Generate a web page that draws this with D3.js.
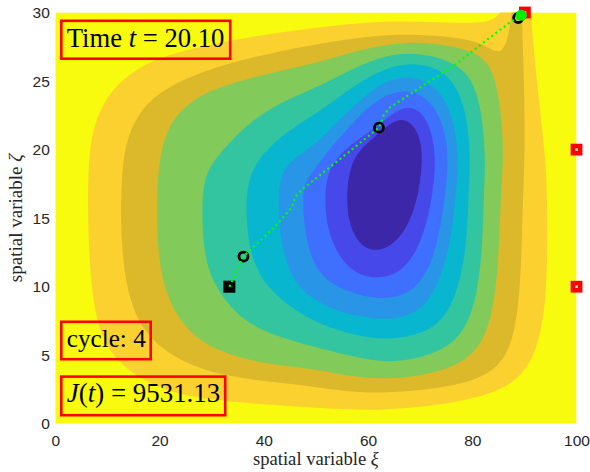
<!DOCTYPE html>
<html>
<head>
<meta charset="utf-8">
<script src="https://cdn.jsdelivr.net/npm/d3@7/dist/d3.min.js"></script>
<style>
    body { margin: 0; background: #fff; }
</style>
</head>
<body>
<div id="chart"></div>
<script>
"use strict";

// level regions as [xi, zeta] outlines, outermost first
const orangeRegion = [[6.2,16.8],[6.5,19.8],[7.5,21.9],[9.5,23.6],[12.5,25.0],[16.5,26.1],[21.5,26.9],[28.8,27.6],[38.4,28.3],[49.9,28.9],[62.4,29.4],[72,29.3],[80,29.2],[84.3,29.4],[86,30.3],[86.5,31.5],[91,31.5],[91.3,29.8],[91.8,27.3],[92.6,24.3],[93.5,21.2],[94.2,18.5],[94.4,15.5],[94.4,12],[94.1,9.2],[93.3,6.9],[91.7,4.8],[89,3.3],[84,2.2],[76,1.5],[68,1.15],[62.4,1.0],[55,1.05],[49.9,1.15],[38.4,1.45],[28.8,1.8],[22.4,2.3],[16,3.3],[11.2,4.8],[8.4,6.8],[7.0,9.5],[6.4,13]];
const goldRegion = [[12.6,16.8],[13.0,19.4],[14.3,21.4],[16.8,23.1],[21.1,24.5],[28.8,25.8],[38.4,26.8],[49.9,27.7],[62.4,28.4],[70,28.4],[77,28.2],[81.5,27.8],[84,27.2],[85.6,27.1],[86.7,27.9],[87.4,29.3],[87.8,31],[89.4,31],[89.6,29],[89.8,26.5],[90,23.5],[90.1,20.5],[89.9,18],[89.6,15],[89.4,11.5],[88.8,8.3],[87.5,5.7],[84.8,4.0],[79.5,3.0],[72,2.5],[62.4,2.2],[55,2.4],[49.9,2.7],[41.6,3.05],[32,3.5],[24.3,4.5],[18.6,6.0],[14.9,8.1],[13.2,11],[12.6,14]];
const greenRegion = [[19.5,16.8],[20.0,19.5],[21.5,21.5],[24,22.9],[28,24],[32,24.6],[38,25.3],[44,25.8],[49.9,26.3],[56,27.0],[62.4,27.6],[69,27.9],[75.5,27.6],[79.5,27.2],[82,26.7],[83.7,25.9],[84.9,24.3],[85.7,22],[86,19.5],[85.5,16.8],[85.2,13.5],[84.6,9.8],[83.1,6.8],[80.2,5.0],[75,3.9],[68,3.4],[62.4,3.25],[56,3.5],[49.9,4.0],[42,4.3],[35.2,4.8],[29,5.7],[25,7.0],[21.9,8.8],[20.1,11.2],[19.5,14]];
const tealRegion = [[28.2,16.8],[29.0,18.3],[30.7,19.3],[34,20.8],[39,22.5],[44.8,23.7],[49.9,24.5],[56,25.7],[62.4,26.8],[68,27.1],[73,26.8],[77,26.2],[79.8,25.2],[81.4,23.5],[82.3,21],[82.5,18.5],[82.2,16.8],[82,13],[81,9.6],[79.3,7.4],[76.5,5.9],[72,5.0],[67,4.6],[62.4,4.5],[56,5.0],[49.9,5.6],[41.6,6.45],[36,7.6],[33,8.8],[30.5,10.2],[28.9,11.8],[28.2,14]];
const cyanRegion = [[36.6,16.8],[37.6,18.4],[40,19.8],[44,21.2],[49.9,22.6],[55,24],[60,25.3],[64,26],[68,26.3],[72,26.1],[75.5,25.4],[78,23.8],[79.3,21.5],[79.6,19],[79.3,16.8],[79,13.5],[78,11],[76.3,8.8],[73.5,7.2],[69,6.4],[62.4,6.1],[56,6.6],[49.9,7.4],[44.8,8.6],[40.5,10],[37.7,12],[36.7,14.3]];
const azureRegion = [[42.7,16.8],[43.4,18.3],[45.5,19.3],[49.9,20.4],[53,21.6],[56.5,22.9],[59.5,23.9],[62.4,24.8],[66,25.3],[70,25.2],[73.5,24.4],[75.9,22.8],[77.2,20.5],[77.3,18.3],[76.8,16.8],[76.2,14.3],[74.9,11.8],[72.8,9.6],[69.8,8.2],[66,7.7],[62.4,7.6],[57,7.9],[53,8.4],[49.9,9.0],[46.5,10],[44.3,11.6],[43,14]];
const blueRegion = [[47.4,16.8],[48.2,17.8],[50,18.7],[53,20.2],[56,21.5],[59,22.7],[62.4,23.8],[66,24.3],[69.5,24.2],[72.5,23.3],[74.6,21.7],[75.5,19.5],[74.9,17],[74,14.5],[72.5,12],[70,10.2],[66.5,9.3],[62.4,9.1],[58,9.4],[54,10],[51,10.8],[49,12.2],[47.8,14.2]];
const indigoRegion = [[51.7,16.8],[52.3,18.3],[54,19.4],[56.5,20.3],[59.5,21.1],[62.1,21.8],[64.5,22.6],[67.5,23.2],[70.3,22.8],[72.2,21.4],[73,19.4],[72.6,17.3],[71.4,14.7],[69.2,12.4],[66,11],[62.4,10.6],[58.5,10.8],[55.3,11.7],[53,13.3],[51.9,15]];
const purpleRegion = [[55.9,16.8],[56.5,18.7],[58.2,19.9],[60.6,20.7],[63.2,21.6],[66,22.3],[68.3,22.0],[69.9,21.0],[70.5,19.5],[70.0,17.5],[68.9,15.6],[67,14.0],[64.5,13.0],[61.8,12.6],[59.3,12.8],[57.3,13.7],[56.1,15.1]];

const regions = [orangeRegion, goldRegion, greenRegion, tealRegion, cyanRegion,
    azureRegion, blueRegion, indigoRegion, purpleRegion];
const regionColors = ["#fbd12f", "#dcb92a", "#82ca5a", "#32c59f", "#08b6cf",
    "#2995e6", "#3e6ffd", "#4748e9", "#3d27a9"];
const backgroundColor = "#f9fb0e";

// trajectory (dotted green)
const pathXi = [33.4, 36.1, 42.2, 45.4, 46.1, 47.7, 62.1, 63.0, 64.3, 70.7, 77.1, 83.5, 87.3, 88.8];
const pathZeta = [10.0, 12.2, 14.4, 15.8, 16.6, 17.2, 21.6, 22.5, 23.1, 24.7, 26.3, 28.2, 29.3, 29.6];

// markers
const startXi = [33.4], startZeta = [10.0];
const ringXi = [36.1, 62.1, 88.8], ringZeta = [12.2, 21.6, 29.6];
const redXi = [90.1, 100, 100], redZeta = [30, 20, 10];
const currentXi = [89.4], currentZeta = [29.8];

// axes
const xTicks = [0, 20, 40, 60, 80, 100];
const yTicks = [0, 5, 10, 15, 20, 25, 30];

const width = 590, height = 472;
const plot = { left: 55.3, right: 576.5, top: 12.5, bottom: 423.8 };

const x = d3.scaleLinear().domain([0, 100]).range([plot.left, plot.right]);
const y = d3.scaleLinear().domain([0, 30]).range([plot.bottom, plot.top]);

const svg = d3.select("#chart").append("svg")
    .attr("width", width)
    .attr("height", height);

svg.append("clipPath").attr("id", "plot-clip")
    .append("rect")
    .attr("x", plot.left).attr("y", plot.top)
    .attr("width", plot.right - plot.left).attr("height", plot.bottom - plot.top);

let field = svg.append("g").attr("clip-path", "url(#plot-clip)");

field.append("rect")
    .attr("x", x(0)).attr("y", y(30))
    .attr("width", x(100) - x(0)).attr("height", y(0) - y(30))
    .attr("fill", backgroundColor);

// smooth closed outline through the read points
let outline = d3.line()
    .x(d => x(d[0]))
    .y(d => y(d[1]))
    .curve(d3.curveBasisClosed);

field.selectAll(".level")
    .data(regions)
    .enter()
    .append("path")
    .attr("class", "level")
    .attr("d", outline)
    .attr("fill", (d, i) => regionColors[i]);

// axes (labels only)
let xAxis = svg.append("g")
    .attr("transform", "translate(0," + plot.bottom + ")")
    .call(d3.axisBottom(x).tickValues(xTicks).tickSize(0).tickPadding(11));
let yAxis = svg.append("g")
    .attr("transform", "translate(" + plot.left + ",0)")
    .call(d3.axisLeft(y).tickValues(yTicks).tickSize(0).tickPadding(5.5));
[xAxis, yAxis].forEach(a => {
    a.select(".domain").remove();
    a.selectAll("text")
        .style("font-family", "'Liberation Sans', Arial, sans-serif")
        .style("font-size", "15.5px")
        .attr("fill", "#262626");
});

const serif = "'Liberation Serif', 'Times New Roman', serif";

// shrinks or grows a text so that it spans the given width
function fitWidth(text, target) {
    let len = text.node().getComputedTextLength();
    let size = parseFloat(text.style("font-size"));
    text.style("font-size", (size * target / len) + "px");
}

let xLabel = svg.append("text")
    .attr("x", (plot.left + plot.right) / 2)
    .attr("y", 465)
    .attr("text-anchor", "middle")
    .style("font-family", serif)
    .style("font-size", "16px")
    .attr("fill", "#262626");
xLabel.append("tspan").text("spatial variable ");
xLabel.append("tspan").style("font-style", "italic").text("ξ");
fitWidth(xLabel, 126);

let yLabel = svg.append("text")
    .attr("transform", "translate(21.5," + ((plot.top + plot.bottom) / 2) + ") rotate(-90)")
    .attr("text-anchor", "middle")
    .style("font-family", serif)
    .style("font-size", "16px")
    .attr("fill", "#262626");
yLabel.append("tspan").text("spatial variable ");
yLabel.append("tspan").style("font-style", "italic").text("ζ");
fitWidth(yLabel, 128);

// trajectory and markers
let marks = svg.append("g");

marks.selectAll(".start")
    .data(startXi)
    .enter()
    .append("rect")
    .attr("class", "start")
    .attr("x", (d, i) => x(d) - 6)
    .attr("y", (d, i) => y(startZeta[i]) - 6)
    .attr("width", 12).attr("height", 12)
    .attr("fill", "#000");

marks.selectAll(".ring")
    .data(ringXi)
    .enter()
    .append("circle")
    .attr("class", "ring")
    .attr("cx", d => x(d))
    .attr("cy", (d, i) => y(ringZeta[i]))
    .attr("r", 4.5)
    .attr("fill", "none")
    .attr("stroke", "#000")
    .attr("stroke-width", 2.8);

marks.append("path")
    .datum(pathXi.map((d, i) => [d, pathZeta[i]]))
    .attr("d", d3.line().x(d => x(d[0])).y(d => y(d[1])))
    .attr("fill", "none")
    .attr("stroke", "#00ff00")
    .attr("stroke-width", 2.2)
    .attr("stroke-dasharray", "2,3.2");

let red = marks.selectAll(".target")
    .data(redXi)
    .enter()
    .append("g")
    .attr("class", "target")
    .attr("transform", (d, i) => "translate(" + x(d) + "," + y(redZeta[i]) + ")");
red.append("rect")
    .attr("x", -5.9).attr("y", -5.9)
    .attr("width", 11.8).attr("height", 11.8)
    .attr("fill", "#ff0000");
red.append("rect")
    .attr("x", -1.3).attr("y", -1.3)
    .attr("width", 2.6).attr("height", 2.6)
    .attr("fill", "#fff6a0");

marks.selectAll(".current")
    .data(currentXi)
    .enter()
    .append("circle")
    .attr("class", "current")
    .attr("cx", d => x(d))
    .attr("cy", (d, i) => y(currentZeta[i]))
    .attr("r", 5.6)
    .attr("fill", "#00ee00");

// annotation boxes
function textBox(left, top, w, h, baseline, textWidth, parts) {
    svg.append("rect")
        .attr("x", left + 1.3).attr("y", top + 1.3)
        .attr("width", w - 2.6).attr("height", h - 2.6)
        .attr("fill", "none")
        .attr("stroke", "#ff0000")
        .attr("stroke-width", 2.6);
    let t = svg.append("text")
        .attr("x", left + 6.8)
        .attr("y", baseline)
        .style("font-family", serif)
        .style("font-size", "22px")
        .attr("fill", "#000");
    parts.forEach(p => {
        t.append("tspan")
            .style("font-style", p[1] ? "italic" : "normal")
            .text(p[0]);
    });
    fitWidth(t, textWidth);
}

textBox(60, 19.5, 171.5, 40.5, 46.5, 157.5, [["Time ", false], ["t", true], [" = 20.10", false]]);
textBox(60, 320.5, 92, 40, 347.2, 79, [["cycle:  4", false]]);
textBox(60, 375.3, 166.5, 41.2, 402, 153.5, [["J", true], ["(", false], ["t", true], [") = 9531.13", false]]);
</script>
</body>
</html>
